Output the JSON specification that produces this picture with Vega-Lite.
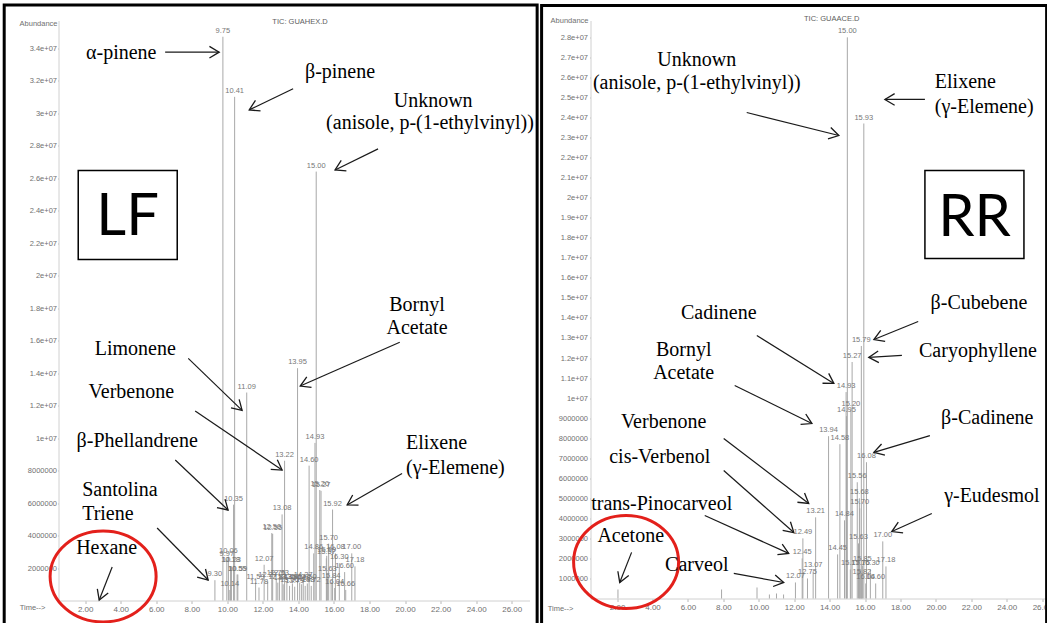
{
  "$schema": "https://vega.github.io/schema/vega-lite/v6.json",
  "padding": {"left": 2.5, "top": 3.5, "right": 0, "bottom": 0},
  "background": "white",
  "spacing": 0,
  "config": {
    "view": {"stroke": null},
    "axis": {"grid": false, "labelFont": "Liberation Sans", "labelColor": "#707070", "labelFontSize": 7.5, "tickColor": "#b8b8b8", "domainColor": "#d0d0d0", "tickSize": 2, "title": null}
  },
  "datasets": {
    "frameL": [{"t": -2.555, "a": 36650000, "t2": 27.43, "a2": -1900000}],
    "frameR": [{"t": -2.261, "a": 29590000, "t2": 26.25, "a2": -1700000}],
    "boxL": [{"t": 1.61, "a": 26470000, "t2": 7.18, "a2": 20990000}],
    "boxR": [{"t": 19.38, "a": 21360000, "t2": 24.97, "a2": 16970000}],
    "bigL": [{"t": 4.39, "a": 22470000, "txt": "LF"}],
    "bigR": [{"t": 22.18, "a": 18110000, "txt": "RR"}],
    "ellL": [{"t": 3.01, "a": 1480000}],
    "ellR": [{"t": 2.51, "a": 1820000}],
    "peaksL": [
      {"t": 9.30, "a": 1250000, "label": "9.30"},
      {"t": 9.75, "a": 34700000, "label": "9.75"},
      {"t": 9.97, "a": 2500000, "label": "9.97"},
      {"t": 10.06, "a": 2700000, "label": "10.06"},
      {"t": 10.14, "a": 650000, "label": "10.14"},
      {"t": 10.18, "a": 2100000, "label": "10.18"},
      {"t": 10.23, "a": 2100000, "label": "10.23"},
      {"t": 10.35, "a": 5900000, "label": "10.35"},
      {"t": 10.41, "a": 31000000, "label": "10.41"},
      {"t": 10.55, "a": 1600000, "label": "10.55"},
      {"t": 10.59, "a": 1600000, "label": "10.59"},
      {"t": 11.09, "a": 12800000, "label": "11.09"},
      {"t": 11.59, "a": 1100000, "label": "11.59"},
      {"t": 11.78, "a": 800000, "label": "11.78"},
      {"t": 12.07, "a": 2200000, "label": "12.07"},
      {"t": 12.27, "a": 1200000, "label": "12.27"},
      {"t": 12.50, "a": 4150000, "label": "12.50"},
      {"t": 12.55, "a": 4100000, "label": "12.55"},
      {"t": 12.75, "a": 1350000, "label": "12.75"},
      {"t": 12.84, "a": 1100000, "label": "12.84"},
      {"t": 12.93, "a": 1300000, "label": "12.93"},
      {"t": 13.08, "a": 5300000, "label": "13.08"},
      {"t": 13.14, "a": 1000000, "label": "13.14"},
      {"t": 13.22, "a": 8600000, "label": "13.22"},
      {"t": 13.35, "a": 1100000, "label": "13.35"},
      {"t": 13.50, "a": 900000, "label": "13.50"},
      {"t": 13.66, "a": 1050000, "label": "13.66"},
      {"t": 13.79, "a": 850000, "label": "13.79"},
      {"t": 13.95, "a": 14300000, "label": "13.95"},
      {"t": 14.07, "a": 1100000, "label": "14.07"},
      {"t": 14.18, "a": 1000000, "label": "14.18"},
      {"t": 14.27, "a": 1200000, "label": "14.27"},
      {"t": 14.38, "a": 900000, "label": "14.38"},
      {"t": 14.50, "a": 1050000, "label": "14.50"},
      {"t": 14.60, "a": 8300000, "label": "14.60"},
      {"t": 14.72, "a": 900000, "label": "14.72"},
      {"t": 14.86, "a": 2900000, "label": "14.86"},
      {"t": 14.93, "a": 9700000, "label": "14.93"},
      {"t": 15.00, "a": 26400000, "label": "15.00"},
      {"t": 15.20, "a": 6800000, "label": "15.20"},
      {"t": 15.27, "a": 6750000, "label": "15.27"},
      {"t": 15.57, "a": 2600000, "label": "15.57"},
      {"t": 15.59, "a": 2750000, "label": "15.59"},
      {"t": 15.63, "a": 1550000, "label": "15.63"},
      {"t": 15.70, "a": 3500000, "label": "15.70"},
      {"t": 15.84, "a": 1150000, "label": "15.84"},
      {"t": 15.92, "a": 5600000, "label": "15.92"},
      {"t": 16.04, "a": 770000, "label": "16.04"},
      {"t": 16.08, "a": 2900000, "label": "16.08"},
      {"t": 16.30, "a": 2300000, "label": "16.30"},
      {"t": 16.60, "a": 1750000, "label": "16.60"},
      {"t": 16.66, "a": 650000, "label": "16.66"},
      {"t": 17.00, "a": 2900000, "label": "17.00"},
      {"t": 17.18, "a": 2100000, "label": "17.18"}
    ],
    "peaksR": [
      {"t": 2.05, "a": 450000, "label": ""},
      {"t": 7.90, "a": 450000, "label": ""},
      {"t": 9.90, "a": 550000, "label": ""},
      {"t": 10.60, "a": 200000, "label": ""},
      {"t": 11.00, "a": 250000, "label": ""},
      {"t": 11.40, "a": 200000, "label": ""},
      {"t": 12.07, "a": 800000, "label": "12.07"},
      {"t": 12.45, "a": 2000000, "label": "12.45"},
      {"t": 12.49, "a": 3000000, "label": "12.49"},
      {"t": 12.75, "a": 1000000, "label": "12.75"},
      {"t": 13.07, "a": 1350000, "label": "13.07"},
      {"t": 13.21, "a": 4050000, "label": "13.21"},
      {"t": 13.94, "a": 8100000, "label": "13.94"},
      {"t": 14.45, "a": 2200000, "label": "14.45"},
      {"t": 14.58, "a": 7700000, "label": "14.58"},
      {"t": 14.84, "a": 3900000, "label": "14.84"},
      {"t": 14.93, "a": 10300000, "label": "14.93"},
      {"t": 14.95, "a": 9100000, "label": "14.95"},
      {"t": 15.00, "a": 28000000, "label": "15.00"},
      {"t": 15.17, "a": 1450000, "label": "15.17"},
      {"t": 15.20, "a": 9400000, "label": "15.20"},
      {"t": 15.27, "a": 11800000, "label": "15.27"},
      {"t": 15.56, "a": 5800000, "label": "15.56"},
      {"t": 15.63, "a": 2750000, "label": "15.63"},
      {"t": 15.68, "a": 5000000, "label": "15.68"},
      {"t": 15.70, "a": 4500000, "label": "15.70"},
      {"t": 15.75, "a": 1450000, "label": "15.75"},
      {"t": 15.79, "a": 12600000, "label": "15.79"},
      {"t": 15.82, "a": 1000000, "label": "15.82"},
      {"t": 15.85, "a": 1650000, "label": "15.85"},
      {"t": 15.93, "a": 23700000, "label": "15.93"},
      {"t": 16.04, "a": 750000, "label": "16.04"},
      {"t": 16.08, "a": 6800000, "label": "16.08"},
      {"t": 16.30, "a": 1450000, "label": "16.30"},
      {"t": 16.60, "a": 750000, "label": "16.60"},
      {"t": 17.00, "a": 2850000, "label": "17.00"},
      {"t": 17.18, "a": 1600000, "label": "17.18"}
    ],
    "notesCL": [
      {"t": 4.03, "a": 33700000, "txt": "α-pinene"},
      {"t": 16.34, "a": 32500000, "txt": "β-pinene"},
      {"t": 21.58, "a": 30740000, "txt": "Unknown"},
      {"t": 21.4, "a": 29400000, "txt": "(anisole, p-(1-ethylvinyl))"},
      {"t": 4.82, "a": 15470000, "txt": "Limonene"},
      {"t": 4.6, "a": 12830000, "txt": "Verbenone"},
      {"t": 4.93, "a": 9810000, "txt": "β-Phellandrene"},
      {"t": 3.21, "a": 3230000, "txt": "Hexane"},
      {"t": 20.67, "a": 18180000, "txt": "Bornyl"},
      {"t": 20.67, "a": 16770000, "txt": "Acetate"}
    ],
    "notesLL": [
      {"t": 1.83, "a": 6800000, "txt": "Santolina"},
      {"t": 1.83, "a": 5320000, "txt": "Triene"},
      {"t": 20.05, "a": 9700000, "txt": "Elixene"},
      {"t": 20.05, "a": 8150000, "txt": "(γ-Elemene)"}
    ],
    "notesCR": [
      {"t": 6.5, "a": 26850000, "txt": "Unknown"},
      {"t": 6.5, "a": 25700000, "txt": "(anisole, p-(1-ethylvinyl))"},
      {"t": 7.74, "a": 14270000, "txt": "Cadinene"},
      {"t": 5.76, "a": 12380000, "txt": "Bornyl"},
      {"t": 5.76, "a": 11230000, "txt": "Acetate"},
      {"t": 4.63, "a": 8830000, "txt": "Verbenone"},
      {"t": 4.41, "a": 7040000, "txt": "cis-Verbenol"},
      {"t": 4.52, "a": 4740000, "txt": "trans-Pinocarveol"},
      {"t": 2.77, "a": 3140000, "txt": "Acetone"},
      {"t": 6.5, "a": 1650000, "txt": "Carveol"},
      {"t": 22.43, "a": 14720000, "txt": "β-Cubebene"},
      {"t": 22.37, "a": 12330000, "txt": "Caryophyllene"},
      {"t": 22.9, "a": 9030000, "txt": "β-Cadinene"},
      {"t": 23.16, "a": 5090000, "txt": "γ-Eudesmol"}
    ],
    "notesLR": [
      {"t": 19.94, "a": 25750000, "txt": "Elixene"},
      {"t": 19.94, "a": 24500000, "txt": "(γ-Elemene)"}
    ],
    "arrowsL": [
      {"t": 9.54, "a": 33750000, "t2": 6.5, "a2": 33750000},
      {"t": 11.23, "a": 30200000, "t2": 13.7, "a2": 31500000},
      {"t": 16.06, "a": 26500000, "t2": 18.48, "a2": 27800000},
      {"t": 10.83, "a": 11700000, "t2": 7.8, "a2": 14900000},
      {"t": 13.08, "a": 8030000, "t2": 8.19, "a2": 11660000},
      {"t": 10.04, "a": 5570000, "t2": 7.07, "a2": 8650000},
      {"t": 8.92, "a": 1260000, "t2": 6.05, "a2": 4460000},
      {"t": 2.79, "a": 30000, "t2": 3.52, "a2": 2060000},
      {"t": 14.1, "a": 13200000, "t2": 19.7, "a2": 15900000},
      {"t": 16.74, "a": 5880000, "t2": 19.83, "a2": 7820000}
    ],
    "arrowsR": [
      {"t": 14.52, "a": 23100000, "t2": 9.32, "a2": 24250000},
      {"t": 17.12, "a": 24900000, "t2": 19.38, "a2": 24900000},
      {"t": 14.24, "a": 10730000, "t2": 9.89, "a2": 13120000},
      {"t": 13.0, "a": 8730000, "t2": 8.64, "a2": 10630000},
      {"t": 12.82, "a": 4740000, "t2": 8.02, "a2": 7980000},
      {"t": 11.98, "a": 3290000, "t2": 8.02, "a2": 6390000},
      {"t": 11.69, "a": 2250000, "t2": 6.95, "a2": 4140000},
      {"t": 2.15, "a": 800000, "t2": 2.82, "a2": 2300000},
      {"t": 11.41, "a": 800000, "t2": 8.59, "a2": 1250000},
      {"t": 16.5, "a": 12920000, "t2": 19.0, "a2": 13820000},
      {"t": 16.21, "a": 12030000, "t2": 18.08, "a2": 12130000},
      {"t": 16.5, "a": 7290000, "t2": 19.66, "a2": 8130000},
      {"t": 17.51, "a": 3340000, "t2": 19.77, "a2": 4240000}
    ],
    "titleL": [{"t": 14.09, "a": 35580000, "txt": "TIC: GUAHEX.D"}],
    "titleR": [{"t": 14.12, "a": 28890000, "txt": "TIC: GUAACE.D"}],
    "abL": [{"t": 0.5, "a": 35460000, "txt": "Abundance"}],
    "abR": [{"t": 0.5, "a": 28840000, "txt": "Abundance"}],
    "timeL": [{"t": 0.5, "a": -490000, "txt": "Time-->"}],
    "timeR": [{"t": 0.5, "a": -500000, "txt": "Time-->"}]
  },
  "hconcat": [
    {
      "width": 471,
      "height": 580,
      "encoding": {
        "x": {"field": "t", "type": "quantitative", "scale": {"domain": [0.5, 27], "nice": false, "zero": false},
              "axis": {"values": [2, 4, 6, 8, 10, 12, 14, 16, 18, 20, 22, 24, 26], "format": ".2f", "labelFontSize": 8, "tickSize": 3, "labelPadding": 2, "labelOverlap": false}},
        "y": {"field": "a", "type": "quantitative", "scale": {"domain": [0, 35700000], "nice": false, "zero": true},
              "axis": {"values": [2000000, 4000000, 6000000, 8000000, 10000000, 12000000, 14000000, 16000000, 18000000, 20000000, 22000000, 24000000, 26000000, 28000000, 30000000, 32000000, 34000000],
                       "labelExpr": "datum.value >= 10000000 ? format(datum.value / 10000000, '~g') + 'e+07' : format(datum.value, 'd')",
                       "tickSize": 1, "labelPadding": 1, "labelOverlap": false}}
      },
      "layer": [
        {"data": {"name": "frameL"}, "mark": {"type": "rect", "fillOpacity": 0, "stroke": "#000000", "strokeWidth": 3}, "encoding": {"x2": {"field": "t2"}, "y2": {"field": "a2"}}},
        {"data": {"name": "boxL"}, "mark": {"type": "rect", "fill": "white", "stroke": "#000000", "strokeWidth": 1.5}, "encoding": {"x2": {"field": "t2"}, "y2": {"field": "a2"}}},
        {"data": {"name": "bigL"}, "mark": {"type": "text", "font": "Lato", "fontSize": 58, "align": "center", "baseline": "alphabetic", "color": "#000000"}, "encoding": {"text": {"field": "txt"}}},
        {"data": {"name": "peaksL"}, "mark": {"type": "rule", "color": "#a8a8a8", "strokeWidth": 1}, "encoding": {"y2": {"datum": 0}}},
        {"data": {"name": "peaksL"}, "mark": {"type": "text", "font": "Liberation Sans", "fontSize": 7.5, "color": "#777777", "baseline": "bottom", "align": "center", "dy": -2}, "encoding": {"text": {"field": "label"}}},
        {"data": {"name": "ellL"}, "mark": {"type": "point", "shape": "M-1,0A1,0.858,0,1,1,1,0A1,0.858,0,1,1,-1,0Z", "size": 11236, "filled": false, "stroke": "#e3201b", "strokeWidth": 3, "opacity": 1}},
        {"data": {"name": "notesCL"}, "mark": {"type": "text", "font": "Liberation Serif", "fontSize": 20, "align": "center", "baseline": "middle", "color": "#000000"}, "encoding": {"text": {"field": "txt"}}},
        {"data": {"name": "notesLL"}, "mark": {"type": "text", "font": "Liberation Serif", "fontSize": 20, "align": "left", "baseline": "middle", "color": "#000000"}, "encoding": {"text": {"field": "txt"}}},
        {"data": {"name": "arrowsL"}, "mark": {"type": "rule", "color": "#1a1a1a", "strokeWidth": 1.2}, "encoding": {"x2": {"field": "t2"}, "y2": {"field": "a2"}}},
        {"data": {"name": "arrowsL"},
         "transform": [{"calculate": "atan2((datum.a2 - datum.a) * 0.000016246, (datum.t - datum.t2) * 17.774) * 180 / PI", "as": "ang"}],
         "mark": {"type": "point", "shape": "M-1,-0.6L0,0L-1,0.6", "size": 380, "filled": false, "stroke": "#1a1a1a", "strokeWidth": 1.3, "opacity": 1},
         "encoding": {"angle": {"field": "ang", "type": "quantitative", "scale": null}}},
        {"data": {"name": "titleL"}, "mark": {"type": "text", "font": "Liberation Sans", "fontSize": 7.5, "color": "#606060", "align": "center", "baseline": "middle"}, "encoding": {"text": {"field": "txt"}}},
        {"data": {"name": "abL"}, "mark": {"type": "text", "font": "Liberation Sans", "fontSize": 7.5, "color": "#707070", "align": "right", "baseline": "middle", "dx": -1}, "encoding": {"text": {"field": "txt"}}},
        {"data": {"name": "timeL"}, "mark": {"type": "text", "font": "Liberation Sans", "fontSize": 7.5, "color": "#707070", "align": "right", "baseline": "middle", "dx": -13}, "encoding": {"text": {"field": "txt"}}}
      ]
    },
    {
      "width": 457,
      "height": 578,
      "encoding": {
        "x": {"field": "t", "type": "quantitative", "scale": {"domain": [0.5, 26.3], "nice": false, "zero": false},
              "axis": {"values": [2, 4, 6, 8, 10, 12, 14, 16, 18, 20, 22, 24, 26], "format": ".2f", "labelFontSize": 8, "tickSize": 3, "labelPadding": 2, "labelOverlap": false}},
        "y": {"field": "a", "type": "quantitative", "scale": {"domain": [0, 28840000], "nice": false, "zero": true},
              "axis": {"values": [1000000, 2000000, 3000000, 4000000, 5000000, 6000000, 7000000, 8000000, 9000000, 10000000, 11000000, 12000000, 13000000, 14000000, 15000000, 16000000, 17000000, 18000000, 19000000, 20000000, 21000000, 22000000, 23000000, 24000000, 25000000, 26000000, 27000000, 28000000],
                       "labelExpr": "datum.value >= 10000000 ? format(datum.value / 10000000, '~g') + 'e+07' : format(datum.value, 'd')",
                       "tickSize": 1, "labelPadding": 2, "labelOverlap": false}}
      },
      "layer": [
        {"data": {"name": "frameR"}, "mark": {"type": "rect", "fillOpacity": 0, "stroke": "#000000", "strokeWidth": 3}, "encoding": {"x2": {"field": "t2"}, "y2": {"field": "a2"}}},
        {"data": {"name": "boxR"}, "mark": {"type": "rect", "fill": "white", "stroke": "#000000", "strokeWidth": 1.5}, "encoding": {"x2": {"field": "t2"}, "y2": {"field": "a2"}}},
        {"data": {"name": "bigR"}, "mark": {"type": "text", "font": "Lato", "fontSize": 58, "align": "center", "baseline": "alphabetic", "color": "#000000"}, "encoding": {"text": {"field": "txt"}}},
        {"data": {"name": "peaksR"}, "mark": {"type": "rule", "color": "#a8a8a8", "strokeWidth": 1}, "encoding": {"y2": {"datum": 0}}},
        {"data": {"name": "peaksR"}, "mark": {"type": "text", "font": "Liberation Sans", "fontSize": 7.5, "color": "#777777", "baseline": "bottom", "align": "center", "dy": -2}, "encoding": {"text": {"field": "label"}}},
        {"data": {"name": "ellR"}, "mark": {"type": "point", "shape": "M-1,0A1,0.886,0,1,1,1,0A1,0.886,0,1,1,-1,0Z", "size": 11025, "filled": false, "stroke": "#e3201b", "strokeWidth": 3, "opacity": 1}},
        {"data": {"name": "notesCR"}, "mark": {"type": "text", "font": "Liberation Serif", "fontSize": 20, "align": "center", "baseline": "middle", "color": "#000000"}, "encoding": {"text": {"field": "txt"}}},
        {"data": {"name": "notesLR"}, "mark": {"type": "text", "font": "Liberation Serif", "fontSize": 20, "align": "left", "baseline": "middle", "color": "#000000"}, "encoding": {"text": {"field": "txt"}}},
        {"data": {"name": "arrowsR"}, "mark": {"type": "rule", "color": "#1a1a1a", "strokeWidth": 1.2}, "encoding": {"x2": {"field": "t2"}, "y2": {"field": "a2"}}},
        {"data": {"name": "arrowsR"},
         "transform": [{"calculate": "atan2((datum.a2 - datum.a) * 0.00002004, (datum.t - datum.t2) * 17.713) * 180 / PI", "as": "ang"}],
         "mark": {"type": "point", "shape": "M-1,-0.6L0,0L-1,0.6", "size": 380, "filled": false, "stroke": "#1a1a1a", "strokeWidth": 1.3, "opacity": 1},
         "encoding": {"angle": {"field": "ang", "type": "quantitative", "scale": null}}},
        {"data": {"name": "titleR"}, "mark": {"type": "text", "font": "Liberation Sans", "fontSize": 7.5, "color": "#606060", "align": "center", "baseline": "middle"}, "encoding": {"text": {"field": "txt"}}},
        {"data": {"name": "abR"}, "mark": {"type": "text", "font": "Liberation Sans", "fontSize": 7.5, "color": "#707070", "align": "right", "baseline": "middle", "dx": -2}, "encoding": {"text": {"field": "txt"}}},
        {"data": {"name": "timeR"}, "mark": {"type": "text", "font": "Liberation Sans", "fontSize": 7.5, "color": "#707070", "align": "right", "baseline": "middle", "dx": -17}, "encoding": {"text": {"field": "txt"}}}
      ]
    }
  ]
}
